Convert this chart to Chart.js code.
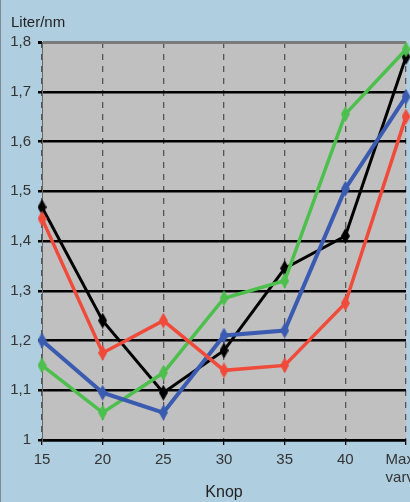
<!DOCTYPE html>
<html>
<head>
<meta charset="utf-8">
<script src="https://cdn.jsdelivr.net/npm/chart.js@4"></script>
<style>
  html, body { margin: 0; padding: 0; overflow: hidden; width: 410px; height: 502px; background: #afcee0; }
  #wrap { position: relative; width: 440px; height: 502px; }
  #edge { position: absolute; left: 0; top: 0; width: 1px; height: 502px; background: #7d8a93; }
</style>
</head>
<body>
<div id="wrap"><canvas id="fuelChart" width="440" height="502"></canvas></div>
<div id="edge"></div>
<script>
// ================= DATA =================
// trailing spaces push the last (cut off) label a bit to the left, like the original
const knop = ["15", "20", "25", "30", "35", "40", ["Max   ", "varv   "]];
const yTicks = [1, 1.1, 1.2, 1.3, 1.4, 1.5, 1.6, 1.7, 1.8];

const redLine = [1.445, 1.175, 1.24, 1.14, 1.15, 1.275, 1.65];
const blueLine = [1.2, 1.095, 1.055, 1.21, 1.22, 1.505, 1.69];
const greenLine = [1.15, 1.055, 1.135, 1.285, 1.32, 1.655, 1.785];
const blackLine = [1.468, 1.24, 1.095, 1.18, 1.345, 1.41, 1.77];

// ================= MARKERS =================
function diamond(color) {
  const c = document.createElement("canvas");
  c.width = 9;
  c.height = 16;
  const g = c.getContext("2d");
  g.fillStyle = color;
  g.beginPath();
  g.moveTo(4.5, 0);
  g.lineTo(9, 8);
  g.lineTo(4.5, 16);
  g.lineTo(0, 8);
  g.closePath();
  g.fill();
  return c;
}

function series(data, color, width) {
  return {
    data: data,
    borderColor: color,
    borderWidth: width,
    pointStyle: diamond(color),
    pointRadius: 5,
    tension: 0,
  };
}

// ================= PLUGINS =================
const plotBg = {
  id: "plotBg",
  beforeDraw(chart) {
    const a = chart.chartArea;
    const c = chart.ctx;
    c.save();
    c.fillStyle = "#c0c0c0";
    c.fillRect(a.left, a.top, a.right - a.left, a.bottom - a.top);
    c.restore();
  },
};

const unitLabel = {
  id: "unitLabel",
  afterDraw(chart) {
    const c = chart.ctx;
    c.save();
    c.fillStyle = "#222";
    c.font = "15px 'Liberation Sans', Arial, sans-serif";
    c.textBaseline = "alphabetic";
    c.fillText("Liter/nm", 11, 27);
    c.restore();
  },
};

// ================= CHART =================
const chart = new Chart(document.getElementById("fuelChart"), {
  type: "line",
  data: {
    labels: knop,
    datasets: [
      series(redLine, "#f04a3a", 3.5),
      series(blueLine, "#3a5bb0", 4),
      series(greenLine, "#4cbf4c", 3.5),
      series(blackLine, "#000000", 3),
    ],
  },
  options: {
    responsive: false,
    animation: false,
    layout: { padding: { top: 42, right: 34, left: 0, bottom: 0 } },
    plugins: { legend: { display: false }, tooltip: { enabled: false } },
    scales: {
      x: {
        offset: false,
        afterFit: (s) => { s.height = 62; },
        grid: {
          color: "#555",
          lineWidth: 1.3,
          drawTicks: true,
          tickLength: 5,
          tickColor: "#000",
          tickBorderDash: [],
        },
        border: { display: true, color: "#000", width: 2.5, dash: [6, 6] },
        ticks: {
          color: "#333",
          font: { family: "'Liberation Sans Narrow', 'Liberation Sans', Arial", size: 15 },
          padding: 6,
          maxRotation: 0,
          autoSkip: false,
        },
        title: {
          display: true,
          text: "Knop",
          color: "#222",
          font: { family: "'Liberation Sans', Arial", size: 16 },
          padding: { top: 4, bottom: 0 },
        },
      },
      y: {
        min: yTicks[0],
        max: yTicks[yTicks.length - 1],
        afterFit: (s) => { s.width = 42; },
        afterBuildTicks: (s) => { s.ticks = yTicks.map((v) => ({ value: v })); },
        grid: {
          color: (ctx) => (ctx.tick && ctx.tick.value === 1.8 ? "#7a7a7a" : "#000"),
          lineWidth: (ctx) => (ctx.tick && ctx.tick.value === 1.8 ? 3 : 2.5),
          tickLength: 4,
          tickColor: "#000",
        },
        border: { display: true, color: "#666", width: 1 },
        ticks: {
          color: "#333",
          font: { family: "'Liberation Sans', Arial", size: 15 },
          padding: 7,
          callback: (v) => String(Math.round(v * 10) / 10).replace(".", ","),
        },
      },
    },
  },
  plugins: [plotBg, unitLabel],
});
</script>
</body>
</html>
